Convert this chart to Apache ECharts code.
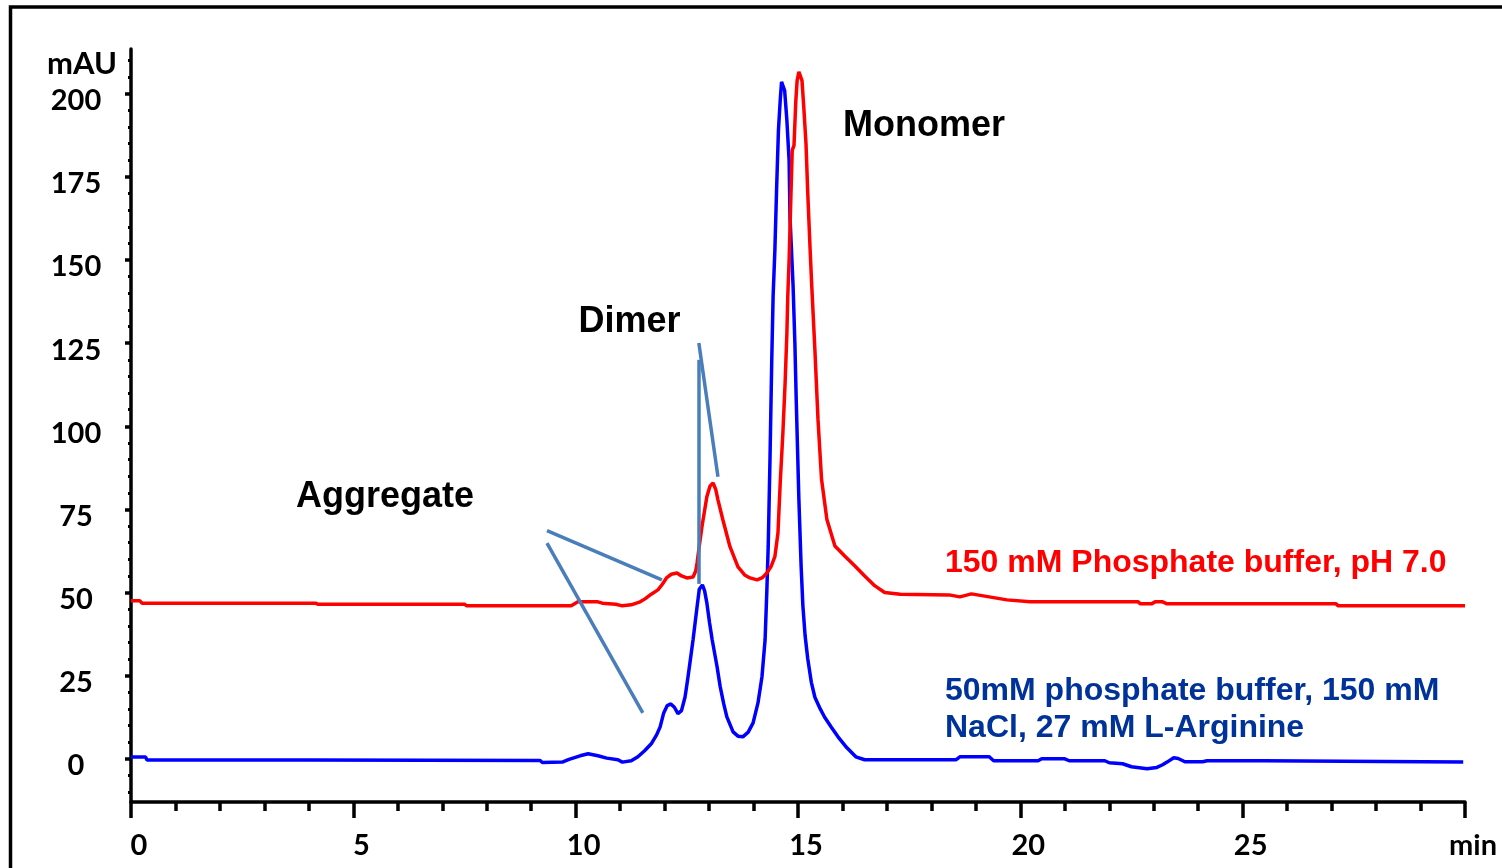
<!DOCTYPE html>
<html>
<head>
<meta charset="utf-8">
<script src="https://cdn.jsdelivr.net/npm/echarts@6/dist/echarts.min.js"></script>
<style>
html,body{margin:0;padding:0;background:#fff;}
#chart{width:1502px;height:868px;}
</style>
</head>
<body>
<div id="chart"></div>
<script>
// ---- data (time in min, absorbance in mAU) ----
const blueTimes = [0,0.33,0.36,4.0,9.2,9.25,9.7,9.85,10.1,10.28,10.5,10.7,10.95,11.05,11.25,11.4,11.55,11.7,11.82,11.9,11.98,12.06,12.14,12.22,12.3,12.38,12.46,12.52,12.57,12.64,12.73,12.78,12.85,12.9,12.95,13.01,13.07,13.18,13.25,13.33,13.40,13.54,13.65,13.76,13.88,13.99,14.10,14.19,14.26,14.30,14.33,14.37,14.41,14.44,14.48,14.52,14.56,14.60,14.63,14.67,14.70,14.75,14.80,14.82,14.89,14.93,14.96,15.02,15.07,15.11,15.16,15.22,15.3,15.38,15.5,15.6,15.75,15.9,16.1,16.3,16.5,18.55,18.64,19.3,19.4,20.4,20.48,21.0,21.1,21.9,22.0,22.3,22.5,22.85,23.07,23.2,23.3,23.45,23.55,23.7,24.1,24.2,25.46,25.5,29.96];
const blueValues = [0.5,0.5,-0.4,-0.4,-0.5,-1.1,-1.0,-0.2,0.9,1.5,0.9,0.2,-0.3,-1.0,-0.6,0.6,2.4,4.5,7.2,9.6,13.8,16.0,16.5,15.5,13.6,14.5,18.6,24,28.9,35.8,45.7,51.0,52.3,50.5,46.9,41,35.8,27.7,21.7,16.5,12.6,8.1,6.8,6.6,8.0,10.8,16.8,24.7,35.8,50.8,63.8,90,120,139,153,172,189,198,203.6,203.3,201,192,180,163,142,125,108,78,58,46,37,30,23,18.5,15,12.5,9.5,6.6,3.3,0.6,-0.3,-0.3,0.6,0.6,-0.6,-0.6,0.0,0.0,-0.6,-0.6,-1.2,-1.5,-2.4,-3.0,-2.6,-1.8,-1.0,0.3,0.1,-0.9,-0.9,-0.6,-0.6,-1.0,-1.0];

const redTimes = [0,0.2,0.25,4.15,4.2,7.5,7.55,9.9,10.05,10.5,10.6,10.9,11.05,11.25,11.45,11.56,11.7,11.85,11.95,12.05,12.15,12.28,12.38,12.5,12.64,12.70,12.73,12.78,12.84,12.95,13.02,13.09,13.15,13.2,13.31,13.47,13.65,13.8,13.92,14.08,14.2,14.3,14.4,14.48,14.55,14.6,14.66,14.71,14.75,14.77,14.8,14.84,14.87,14.91,14.95,14.98,15.02,15.06,15.09,15.13,15.18,15.22,15.27,15.31,15.38,15.45,15.53,15.65,15.83,16.05,16.28,16.5,16.73,16.95,17.3,18.4,18.64,18.9,19.3,19.7,20.22,22.65,22.7,22.95,23.03,23.2,23.3,27.1,27.15,30.0];
const redValues = [47.5,47.5,46.8,46.8,46.5,46.5,46.0,46.0,47.2,47.2,46.8,46.5,46.0,46.3,47.2,48.1,49.5,50.8,52.5,54.5,55.5,55.9,55.0,54.4,54.7,56.5,58.9,64,69.8,78.8,82,83.0,81,77.9,71.9,63.8,57.7,55.3,54.4,53.8,54.5,55.9,58,60.8,68,83,98,113,128,139,150,169,183,184.5,197.6,204,206.6,206,204,196,185,170,154,142,123,102,84,72,64,61,58,55,52,50,49.5,49.3,48.7,49.6,48.7,47.8,47.2,47.2,46.6,46.6,47.2,47.2,46.6,46.6,46.0,46.0];

const xMajorTicks = [0,5,10,15,20,25,30];
const xTickLabels = ['0','5','10','15','20','25','min'];
const yMajorTicks = [0,25,50,75,100,125,150,175,200];
const yMinorTicks = [-10,-5,5,10,15,20,30,35,40,45,55,60,65,70,80,85,90,95,105,110,115,120,130,135,140,145,155,160,165,170,180,185,190,195,205,210];

// annotation pointer lines: [[t1,v1],[t2,v2]]
const pointerLines = [
  [[9.355,68.6],[11.94,53.8]],
  [[9.355,64.9],[11.51,13.8]],
  [[12.77,120.0],[12.77,52.6]],
  [[12.77,125.1],[13.20,84.8]]
];
const peakLabels = ['Aggregate','Dimer','Monomer'];
const traceLabels = ['150 mM Phosphate buffer, pH 7.0','50mM phosphate buffer, 150 mM','NaCl, 27 mM L-Arginine'];
const yAxisName = 'mAU';

const zip = (a,b) => a.map((t,i)=>[t,b[i]]);

const tickFont = 'Lato';
const annFont = '"Liberation Sans", Arial, sans-serif';

const chart = echarts.init(document.getElementById('chart'), null, {renderer:'canvas'});
chart.setOption({
  animation:false,
  backgroundColor:'#ffffff',
  grid:{left:131,right:37,top:49,bottom:66,containLabel:false},
  xAxis:{
    type:'value',min:0,max:30,interval:5,
    axisLine:{show:true,onZero:false,lineStyle:{color:'#000',width:3.5}},
    axisTick:{show:true,length:16,lineStyle:{color:'#000',width:3.5}},
    minorTick:{show:true,splitNumber:5,length:9,lineStyle:{color:'#000',width:3.5}},
    splitLine:{show:false},minorSplitLine:{show:false},
    axisLabel:{
      show:true,margin:29,color:'#000',fontFamily:tickFont,fontWeight:'bold',fontSize:29,
      padding:[0,0,0,16],
      formatter:(v)=>{const i=xMajorTicks.indexOf(v);return i>=0?xTickLabels[i]:'';}
    }
  },
  yAxis:[{
    type:'value',min:-13,max:213.5,
    axisLine:{show:true,onZero:false,lineStyle:{color:'#000',width:3.5}},
    axisTick:{show:true,length:6,customValues:yMajorTicks,lineStyle:{color:'#000',width:3.5}},
    splitLine:{show:false},
    axisLabel:{
      show:true,customValues:yMajorTicks,align:'center',verticalAlign:'top',lineHeight:14,margin:55,
      color:'#000',fontFamily:tickFont,fontWeight:'bold',fontSize:29
    }
  },{
    type:'value',min:-13,max:213.5,position:'left',
    axisLine:{show:false,onZero:false},
    axisTick:{show:true,length:3,customValues:yMinorTicks,lineStyle:{color:'#000',width:3}},
    axisLabel:{show:false},splitLine:{show:false}
  }],
  series:[
    {
      name:'red',type:'line',data:zip(redTimes,redValues),showSymbol:false,
      lineStyle:{color:'#FF0000',width:3.5},itemStyle:{color:'#FF0000'},z:3
    },
    {
      name:'blue',type:'line',data:zip(blueTimes,blueValues),showSymbol:false,
      lineStyle:{color:'#0000FF',width:3.5},itemStyle:{color:'#0000FF'},z:2,
      markLine:{
        silent:true,symbol:['none','none'],label:{show:false},
        lineStyle:{color:'#4A7EBB',width:3.5,type:'solid'},
        emphasis:{disabled:true},
        data:pointerLines.map(p=>[{coord:p[0]},{coord:p[1]}])
      }
    }
  ],
  graphic:[
    {type:'rect',silent:true,shape:{x:10.5,y:7,width:2000,height:2000},style:{fill:'none',stroke:'#000',lineWidth:3.5},z:10},
    {type:'text',silent:true,style:{text:yAxisName,x:82,y:64,textAlign:'center',textVerticalAlign:'middle',font:'bold 31px Lato',fill:'#000'}},
    {type:'text',silent:true,style:{text:peakLabels[0],x:385,y:497,textAlign:'center',textVerticalAlign:'middle',font:'bold 36px '+annFont,fill:'#000'}},
    {type:'text',silent:true,style:{text:peakLabels[1],x:629.5,y:322,textAlign:'center',textVerticalAlign:'middle',font:'bold 36px '+annFont,fill:'#000'}},
    {type:'text',silent:true,style:{text:peakLabels[2],x:924,y:126,textAlign:'center',textVerticalAlign:'middle',font:'bold 36px '+annFont,fill:'#000'}},
    {type:'text',silent:true,style:{text:traceLabels[0],x:945,y:563,textAlign:'left',textVerticalAlign:'middle',font:'bold 32px '+annFont,fill:'#FF0000'}},
    {type:'text',silent:true,style:{text:traceLabels[1],x:945,y:691,textAlign:'left',textVerticalAlign:'middle',font:'bold 32px '+annFont,fill:'#003399'}},
    {type:'text',silent:true,style:{text:traceLabels[2],x:945,y:728,textAlign:'left',textVerticalAlign:'middle',font:'bold 32px '+annFont,fill:'#003399'}}
  ]
});
</script>
</body>
</html>
